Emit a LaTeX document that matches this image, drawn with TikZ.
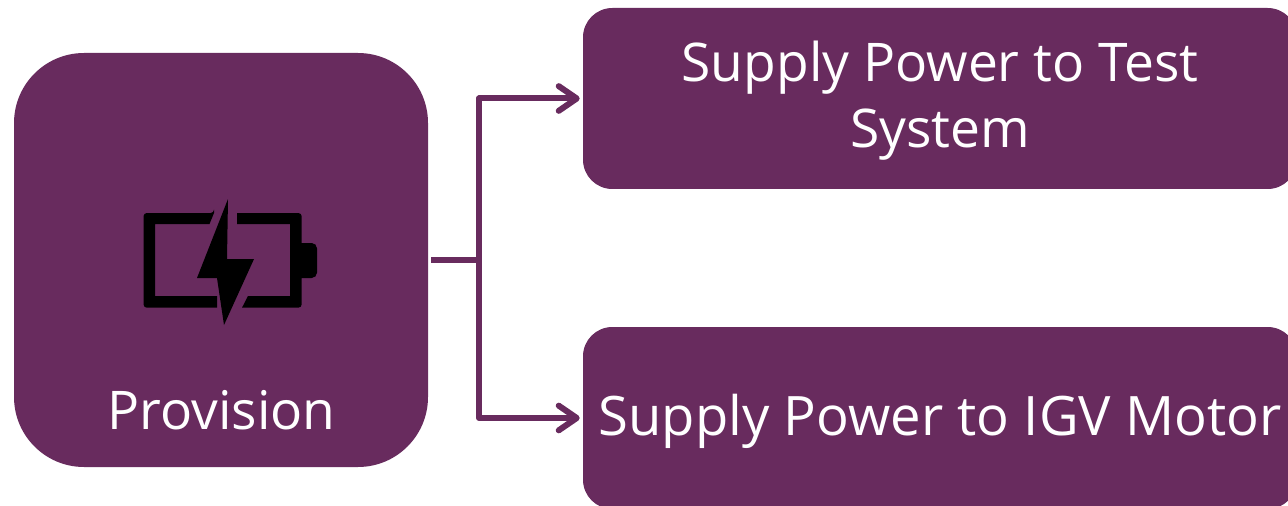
\documentclass[tikz,border=0pt]{standalone}
\usepackage{fontspec}
\setmainfont{Open Sans}
\usetikzlibrary{arrows.meta}
\definecolor{plum}{RGB}{104,43,94}
\tikzset{
  box/.style={fill=plum,draw=none,inner sep=0pt},
  conn/.style={draw=plum,line width=4.5pt,line join=round},
  arr/.style={conn,-{Straight Barb[length=13.5pt,width=18.5pt,line width=4.5pt,round]}},
  lbl/.style={text=white,font=\fontsize{40}{50}\selectfont,align=center,inner sep=0pt},
  icon/.style={fill=black,draw=none,rounded corners=2.5pt}
}
\begin{document}
\begin{tikzpicture}[x=0.75pt,y=-0.75pt]
\useasboundingbox (0,0) rectangle (1288,506);
\node[box,rounded corners=52.5pt,minimum width=310.5pt,minimum height=310.5pt] (prov) at (221,260) {};
\node[box,rounded corners=22pt,minimum width=535.5pt,minimum height=135.75pt] (t1) at (940,98.5) {};
\node[box,rounded corners=22pt,minimum width=535.5pt,minimum height=136.5pt] (t2) at (940,418) {};
\node[lbl] (plabel) at (221.5,410) {Provision};
\node[lbl] (t1label) at (940,100.5) {Supply Power to Test\\System};
\node[lbl,font=\fontsize{40.8}{50}\selectfont] (t2label) at (940,421) {Supply Power to IGV Motor};
% battery icon
\fill[icon] (143.5,213) -- (214,213) [sharp corners] -- (214,213) -- (209.5,224) -- (155,224) -- (155,296) -- (217,296) -- (217,307.7) [rounded corners=2.5pt] -- (143.5,307.7) -- (143.5,260) -- cycle;
\fill[icon,sharp corners] (237,213) [rounded corners=2.5pt] -- (301.7,213) [sharp corners] -- (301.7,243) [rounded corners=4pt] -- (317,243) -- (317,278) [sharp corners] -- (301.7,278) [rounded corners=2.5pt] -- (301.7,307.7) [sharp corners] -- (242,307.7) -- (248,296) -- (290,296) -- (290,224) -- (237,224) -- cycle;
\fill[black] (228,199) -- (197,278) -- (217,278) -- (224,325) -- (254,259) -- (227,259) -- cycle;
% connectors
\coordinate (j) at (479,260);
\draw[conn] ([xshift=2.25pt]prov.east) -- (j);
\draw[arr] (j) |- ([xshift=-2.25pt]t1.west);
\draw[arr] (j) |- ([xshift=-2.25pt]t2.west);
\end{tikzpicture}
\end{document}
